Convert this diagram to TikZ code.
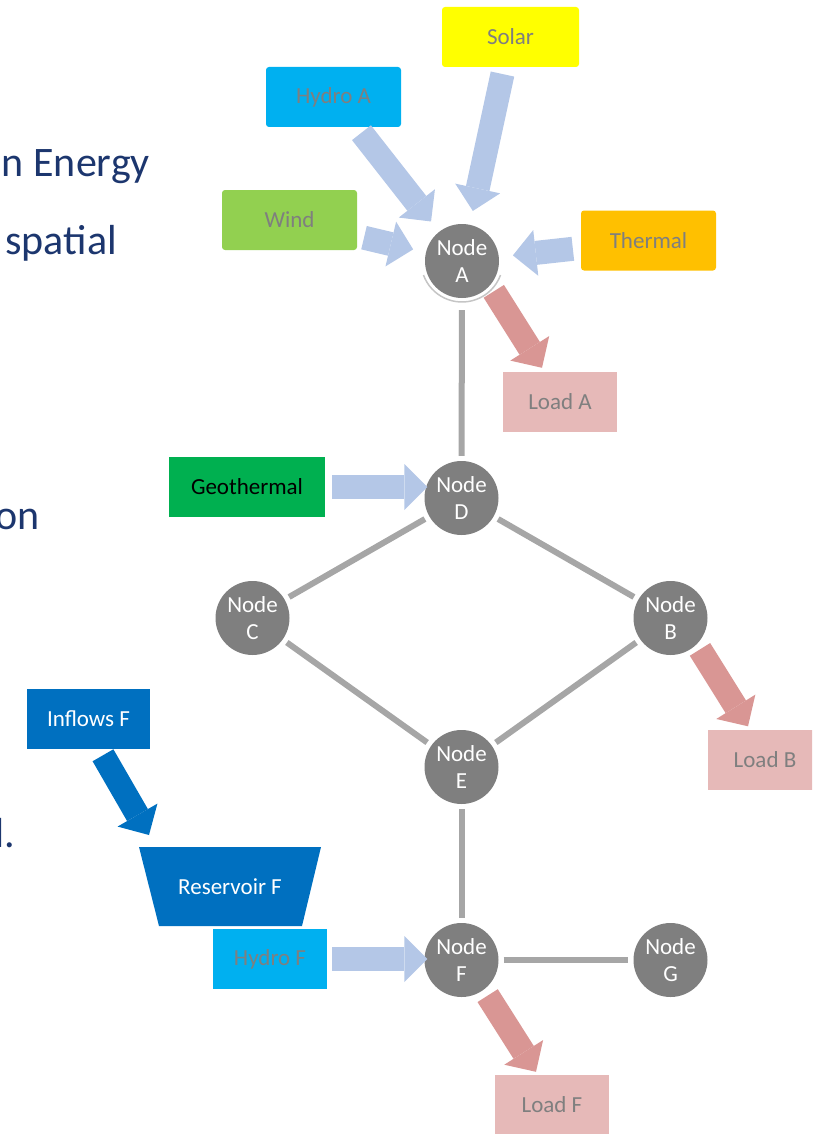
\documentclass[tikz,border=0pt]{standalone}
\usepackage{fontspec}
\setmainfont{Carlito}
\usetikzlibrary{arrows.meta,calc}
\definecolor{busgrey}{HTML}{7F7F7F}
\definecolor{linkgrey}{HTML}{A6A6A6}
\definecolor{feedblue}{HTML}{B4C7E7}
\definecolor{loadred}{HTML}{D99694}
\definecolor{loadpink}{HTML}{E6B9B8}
\definecolor{hydrocyan}{HTML}{00B0F0}
\definecolor{solaryellow}{HTML}{FFFF00}
\definecolor{windgreen}{HTML}{92D050}
\definecolor{thermalorange}{HTML}{FFC000}
\definecolor{geogreen}{HTML}{00B050}
\definecolor{reservoirblue}{HTML}{0070C0}
\definecolor{slideblue}{RGB}{28,54,110}
\tikzset{
  srcbox/.style={fill=#1,text=busgrey,minimum width=135pt,minimum height=60pt,
    inner sep=0pt,font=\fontsize{23}{27}\selectfont},
  loadbox/.style={srcbox=loadpink,minimum width=114pt},
  busnode/.style={circle,fill=busgrey,text=white,minimum size=74pt,inner sep=0pt,
    align=center,font=\fontsize{23}{27}\selectfont},
  linkline/.style={draw=linkgrey,line width=6pt,shorten <=5pt,shorten >=5pt},
  inarrow/.style={draw=feedblue,line width=24pt,
    -{Triangle[length=23pt,width=46pt,line width=0pt]}},
  loadarrow/.style={inarrow,draw=loadred,shorten >=0pt},
  slidetext/.style={anchor=base east,inner sep=0pt,text=slideblue,
    font=\fontsize{42}{50}\selectfont},
  halo/.style={draw=busgrey!45,line width=1.5pt},
  basinbox/.style={minimum width=182pt,minimum height=79pt,inner sep=0pt,text=white,
    font=\fontsize{23}{27}\selectfont,
    path picture={\fill[reservoirblue] (path picture bounding box.north west)
      -- (path picture bounding box.north east)
      -- ($(path picture bounding box.south east)+(-19,0)$)
      -- ($(path picture bounding box.south west)+(20,0)$) -- cycle;}},
}
\begin{document}
\begin{tikzpicture}[x=1pt,y=-1pt]
  \useasboundingbox (0,0) rectangle (812,1134);
  \clip (0,0) rectangle (812,1134);

  \node[slidetext] (txtEnergy) at (150,177) {n Energy};
  \node[slidetext] (txtSpatial) at (117,254) {spatial};
  \node[slidetext] (txtOn) at (40,529) {on};
  \node[slidetext] (txtD) at (15,847) {d.};

  \node[busnode] (A) at (462,261) {Node\\A};
  \node[busnode] (D) at (461.5,498) {Node\\D};
  \node[busnode] (C) at (252.5,618) {Node\\C};
  \node[busnode] (B) at (670.5,618) {Node\\B};
  \node[busnode] (E) at (461.5,767) {Node\\E};
  \node[busnode] (F) at (461.5,960) {Node\\F};
  \node[busnode] (G) at (670.5,960) {Node\\G};
  \draw[halo] ([shift={(160:41)}]A.center) arc[start angle=160,end angle=20,radius=41];

  \node[srcbox=solaryellow,rounded corners=3pt,minimum width=137pt] (solar) at (510.5,37) {Solar};
  \node[srcbox=hydrocyan,rounded corners=3pt] (hydroA) at (333.5,97) {Hydro A};
  \node[srcbox=windgreen,rounded corners=3pt] (wind) at (289.5,220) {Wind};
  \node[srcbox=thermalorange,rounded corners=3pt] (thermal) at (648.5,240.5) {Thermal};
  \node[srcbox=geogreen,text=black,minimum width=156pt] (geo) at (247,487) {Geothermal};
  \node[srcbox=reservoirblue,text=white,minimum width=123pt] (inflows) at (88.5,719) {Inflows F};
  \node[basinbox] (reservoir) at (230,886.5) {Reservoir F};
  \node[srcbox=hydrocyan,minimum width=114pt] (hydroF) at (270,959) {Hydro F};
  \node[loadbox] (loadA) at (560,402) {Load A};
  \node[loadbox] (loadB) at (765,759.5) {Load B};
  \node[loadbox] (loadF) at (552,1105) {Load F};

  \draw[linkline,shorten <=12pt] (A) -- (D);
  \draw[linkline] (D) -- (C);
  \draw[linkline] (D) -- (B);
  \draw[linkline] (C) -- (E);
  \draw[linkline] (B) -- (E);
  \draw[linkline] (E) -- (F);
  \draw[linkline] (F) -- (G);

  \draw[inarrow,shorten <=7pt,shorten >=14pt] (solar) -- (A);
  \draw[inarrow,shorten <=7pt,shorten >=13pt] (hydroA) -- (A);
  \draw[inarrow,shorten <=7pt,shorten >=13pt] (wind) -- (A);
  \draw[inarrow,shorten <=8pt,shorten >=14pt] (thermal) -- (A);
  \draw[inarrow,shorten <=7pt,shorten >=-3pt] (geo.east) -- (geo.east -| D.west);
  \draw[inarrow,shorten <=5pt,shorten >=-3pt] (hydroF.east) -- (hydroF.east -| F.west);
  \draw[inarrow,draw=reservoirblue,shorten <=7pt] (inflows.-70) -- ($(reservoir.center)+(-81,-51.5)$);
  \draw[loadarrow,shorten <=7pt] (A.-41) -- ($(loadA.north)+(-18,-4)$);
  \draw[loadarrow,shorten <=6pt] (B.-45) -- ($(loadB.north)+(-17,-3)$);
  \draw[loadarrow,shorten <=7pt] (F.-53) -- ($(loadF.north)+(-16,-3)$);
\end{tikzpicture}
\end{document}
